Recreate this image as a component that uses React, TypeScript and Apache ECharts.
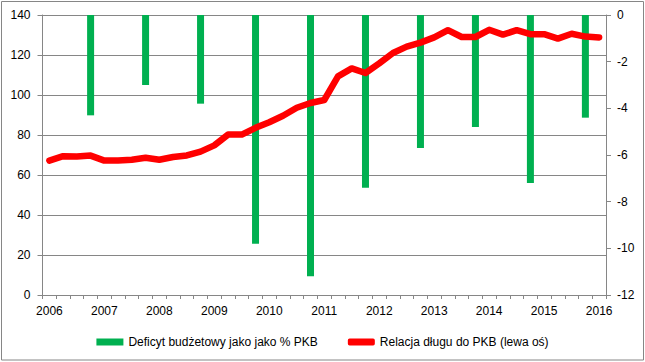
import React, { useEffect, useRef } from "react";
import * as echarts from "echarts";

const years = [2006, 2007, 2008, 2009, 2010, 2011, 2012, 2013, 2014, 2015, 2016];
const quarterNames = ["Q1", "Q2", "Q3", "Q4"];
const categories = years
  .flatMap((y) => quarterNames.map((q) => `${y} ${q}`))
  .slice(0, 41);

// Debt to GDP ratio (left axis), quarterly
const debtRatio = [
  67.2, 69.4, 69.2, 69.7, 67.2, 67.2, 67.6, 68.6, 67.6, 69.0,
  69.8, 71.7, 74.8, 80.2, 80.2, 83.6, 86.4, 89.6, 93.6, 96.0,
  97.5, 109.3, 113.3, 111.0, 115.8, 121.0, 124.2, 126.2, 128.8, 132.4,
  129.0, 129.0, 132.6, 130.2, 132.4, 130.4, 130.4, 128.2, 130.6, 129.2,
  128.8,
];

// Budget deficit as % of GDP (right axis), shown at Q4 of each year
const deficitYears = [2006, 2007, 2008, 2009, 2010, 2011, 2012, 2013, 2014, 2015];
const deficitValues = [-4.3, -3.0, -3.8, -9.8, -11.2, -7.4, -5.7, -4.8, -7.2, -4.4];

const deficitSeries = categories.map((c) => {
  const [y, q] = c.split(" ");
  const idx = deficitYears.indexOf(Number(y));
  return q === "Q4" && idx >= 0 ? deficitValues[idx] : null;
});

const leftTicks = { min: 0, max: 140, interval: 20 };
const rightTicks = { min: -12, max: 0, interval: 2 };

const FONT = "Liberation Sans, Arial, sans-serif";
const GRAY = "#868686";

export default function App() {
  const ref = useRef<HTMLDivElement>(null);
  useEffect(() => {
    const chart = echarts.init(ref.current!, undefined, { renderer: "svg" });
    chart.setOption({
      animation: false,
      textStyle: { fontFamily: FONT, color: "#000" },
      graphic: [
        {
          type: "rect",
          shape: { x: 1.5, y: 1.5, width: 642, height: 358.5 },
          style: { fill: "none", stroke: GRAY, lineWidth: 1 },
          silent: true,
        },
      ],
      grid: { left: 42.5, right: 39, top: 15, bottom: 67, containLabel: false },
      legend: {
        top: 331,
        left: "center",
        itemWidth: 27,
        itemHeight: 7,
        itemGap: 30,
        textStyle: { fontFamily: FONT, fontSize: 12, color: "#000" },
        data: [
          { name: "Deficyt budżetowy jako jako % PKB", icon: "rect" },
          { name: "Relacja długu do PKB (lewa oś)", icon: "roundRect" },
        ],
      },
      xAxis: {
        type: "category",
        data: categories,
        boundaryGap: true,
        axisLine: { lineStyle: { color: GRAY, width: 1 } },
        axisTick: { show: true, interval: 0, length: 4, lineStyle: { color: GRAY } },
        axisLabel: {
          interval: 3,
          margin: 10,
          fontSize: 12,
          fontFamily: FONT,
          color: "#000",
          formatter: (v: string) => v.split(" ")[0],
        },
        splitLine: { show: false },
      },
      yAxis: [
        {
          type: "value",
          ...leftTicks,
          position: "left",
          axisLine: { show: true, lineStyle: { color: GRAY } },
          axisTick: { show: true, length: 5, lineStyle: { color: GRAY } },
          axisLabel: { margin: 12, fontSize: 12, fontFamily: FONT, color: "#000" },
          splitLine: { show: true, lineStyle: { color: GRAY, width: 1 } },
        },
        {
          type: "value",
          ...rightTicks,
          position: "right",
          axisLine: { show: true, lineStyle: { color: GRAY } },
          axisTick: { show: true, length: 5, lineStyle: { color: GRAY } },
          axisLabel: { margin: 11, fontSize: 12, fontFamily: FONT, color: "#000" },
          splitLine: { show: false },
        },
      ],
      series: [
        {
          name: "Deficyt budżetowy jako jako % PKB",
          type: "bar",
          yAxisIndex: 1,
          data: deficitSeries,
          barWidth: 7,
          itemStyle: { color: "#00B050" },
          z: 2,
        },
        {
          name: "Relacja długu do PKB (lewa oś)",
          type: "line",
          yAxisIndex: 0,
          data: debtRatio,
          symbol: "none",
          showSymbol: false,
          itemStyle: { color: "#FF0000" },
          lineStyle: { color: "#FF0000", width: 6.5, cap: "round", join: "round" },
          z: 3,
        },
      ],
    });
    return () => chart.dispose();
  }, []);
  return (
    <div
      ref={ref}
      style={{ position: "fixed", left: 0, top: 0, width: 645, height: 362, background: "#fff" }}
    />
  );
}
